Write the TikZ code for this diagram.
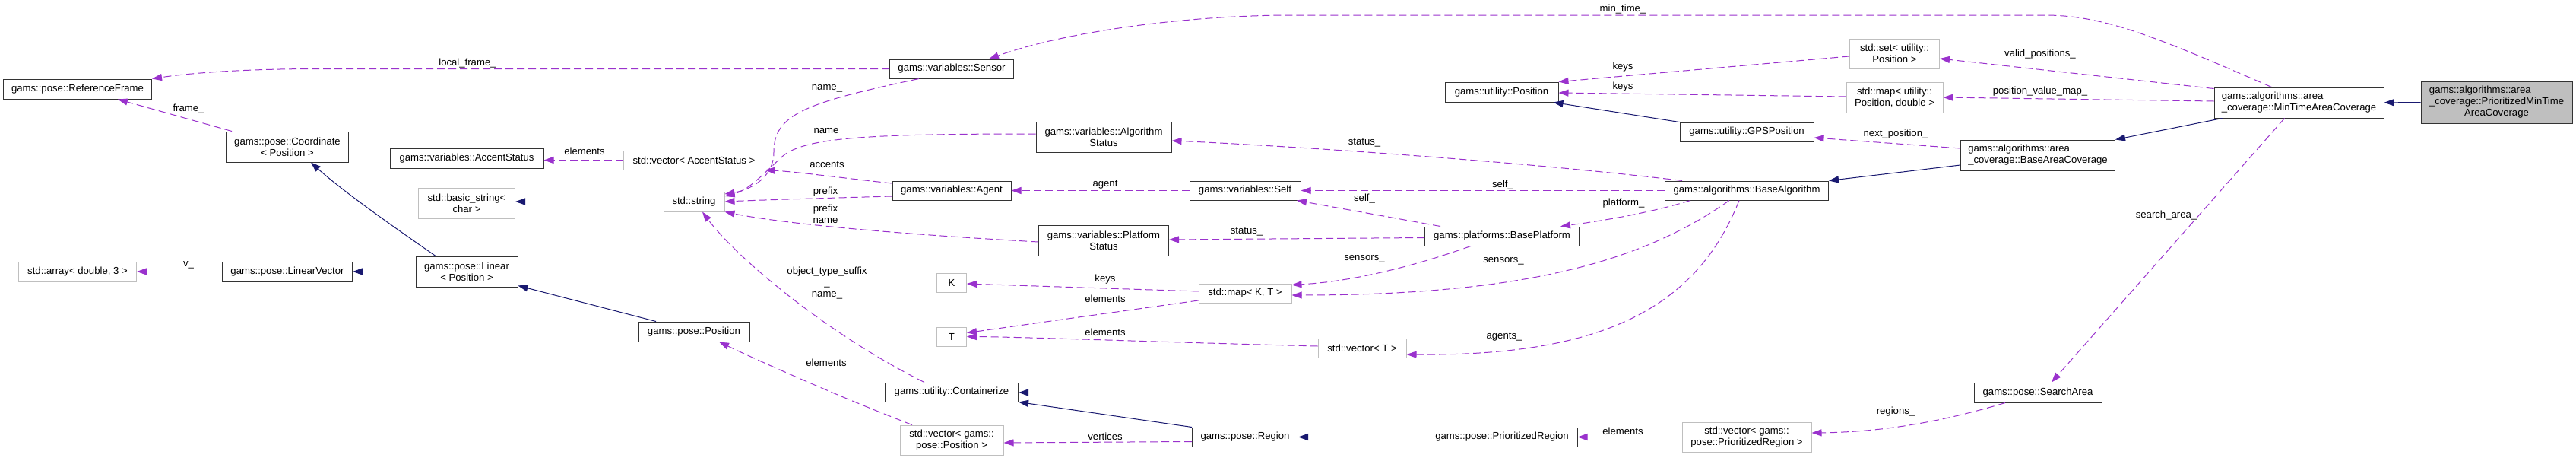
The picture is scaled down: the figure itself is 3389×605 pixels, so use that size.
\documentclass[tikz,border=0pt]{standalone}
\usepackage{fontspec}
\setmainfont{Liberation Sans}
\usepackage{tikz}
\usetikzlibrary{arrows.meta}
\usepackage{xcolor}
\definecolor{usecol}{HTML}{9A32CD}
\definecolor{inhcol}{HTML}{191970}
\definecolor{extgray}{HTML}{BFBFBF}

\begin{document}
\begin{tikzpicture}[
    x=1pt, y=-1pt,
    font=\fontsize{13.15}{15}\selectfont,
    cls/.style={draw=black!80, line width=1pt, fill=white, inner sep=0pt, align=center, minimum height=25pt},
    extcls/.style={cls, draw=extgray},
    hlcls/.style={cls, fill=extgray},
    lbl/.style={inner sep=0pt, align=center},
    usage/.style={-{Triangle[length=13pt,width=9pt]}, color=usecol, line width=1pt, dash pattern=on 10pt off 5pt},
    inherit/.style={-{Triangle[length=13pt,width=9pt]}, color=inhcol, line width=1pt}
]
\useasboundingbox[fill=white] (0,0) rectangle (3389,605);

% pose classes (left)
\node[cls, minimum width=195pt, minimum height=26pt] (refframe) at (102,117) {gams::pose::ReferenceFrame};
\node[cls, minimum width=161pt, minimum height=40pt] (coordinate) at (378,193) {gams::pose::Coordinate\\< Position >};
\node[extcls, minimum width=155pt, minimum height=26pt] (stdarray) at (102,357) {std::array< double, 3 >};
\node[cls, minimum width=171pt, minimum height=26pt] (linvec) at (378,357) {gams::pose::LinearVector};
\node[cls, minimum width=134pt, minimum height=40pt] (linear) at (614,357) {gams::pose::Linear\\< Position >};
\node[cls, minimum width=202pt, minimum height=26pt] (accentstatus) at (614,208) {gams::variables::AccentStatus};
\node[extcls, minimum width=127pt, minimum height=40pt] (basicstring) at (614,267) {std::basic\_string<\\char >};
\node[extcls, minimum width=186pt] (vecaccent) at (913,210.5) {std::vector< AccentStatus >};
\node[extcls, minimum width=80pt, minimum height=26pt] (stdstring) at (913,265) {std::string};
\node[cls, minimum width=146pt, minimum height=26pt] (poseposition) at (913,436) {gams::pose::Position};

% variables
\node[cls, minimum width=163pt] (sensor) at (1252,90.5) {gams::variables::Sensor};
\node[cls, minimum width=156pt] (agent) at (1252,250.5) {gams::variables::Agent};
\node[extcls, minimum width=39pt] (knode) at (1252,371.5) {K};
\node[extcls, minimum width=39pt] (tnode) at (1252,442.5) {T};
\node[cls, minimum width=175pt] (containerize) at (1252,515.5) {gams::utility::Containerize};
\node[extcls, minimum width=136pt, minimum height=39pt] (vecposition) at (1252,578.5) {std::vector< gams::\\pose::Position >};
\node[cls, minimum width=178pt, minimum height=40pt] (algstatus) at (1452,180) {gams::variables::Algorithm\\Status};
\node[cls, minimum width=171pt, minimum height=40pt] (platstatus) at (1452,316) {gams::variables::Platform\\Status};
\node[cls, minimum width=146pt] (self) at (1638,250.5) {gams::variables::Self};
\node[extcls, minimum width=122pt] (mapkt) at (1638,385.5) {std::map< K, T >};
\node[cls, minimum width=139pt] (region) at (1638,574.5) {gams::pose::Region};
\node[extcls, minimum width=116pt] (vect) at (1792,457.5) {std::vector< T >};

% platforms and algorithms
\node[cls, minimum width=149pt, minimum height=26pt] (utilpos) at (1975.5,121) {gams::utility::Position};
\node[cls, minimum width=203pt] (baseplatform) at (1976,310.5) {gams::platforms::BasePlatform};
\node[cls, minimum width=198pt] (prioregion) at (1976,574.5) {gams::pose::PrioritizedRegion};
\node[cls, minimum width=176pt] (gpspos) at (2298,173.5) {gams::utility::GPSPosition};
\node[cls, minimum width=215pt] (basealg) at (2298,250.5) {gams::algorithms::BaseAlgorithm};
\node[extcls, minimum width=170pt, minimum height=39pt] (vecprioreg) at (2298,574.5) {std::vector< gams::\\pose::PrioritizedRegion >};
\node[extcls, minimum width=118pt, minimum height=39pt] (setpos) at (2492.5,70.5) {std::set< utility::\\Position >};
\node[extcls, minimum width=127pt, minimum height=40pt] (mappos) at (2492.5,128) {std::map< utility::\\Position, double >};
\node[cls, minimum width=203pt, minimum height=40pt, align=left] (areacov) at (2681,204) {gams::algorithms::area\\\_coverage::BaseAreaCoverage};
\node[cls, minimum width=168pt, minimum height=26pt] (searcharea) at (2681,516) {gams::pose::SearchArea};
\node[cls, minimum width=223pt, minimum height=40pt, align=left] (mintime) at (3024.5,135) {gams::algorithms::area\\\_coverage::MinTimeAreaCoverage};

% the documented class
\node[hlcls, minimum width=199pt, minimum height=55pt] (priomintime) at (3284.5,134.5)
{\begin{tabular}{@{}l@{}}gams::algorithms::area\\\_coverage::PrioritizedMinTime\\\multicolumn{1}{@{}c@{}}{AreaCoverage}\end{tabular}};

% Inheritance
\draw[inherit] (priomintime) -- (mintime);
\draw[inherit] ([xshift=11pt]mintime.south west) -- (areacov.north east);
\draw[inherit] ([yshift=-13pt]areacov.west) -- (basealg.north east);
\draw[inherit] (gpspos.north west) -- ([xshift=68pt]utilpos.south);
\draw[inherit] (stdstring.west) -- (stdstring.west -| basicstring.east);
\draw[inherit] ([xshift=-41pt]linear.north) .. controls (535,310) and (455,255) .. ([xshift=31pt]coordinate.south);
\draw[inherit] (linear.west) -- (linvec.east);
\draw[inherit] ([xshift=-50pt]poseposition.north) -- ([yshift=2pt]linear.south east);
\draw[inherit] (searcharea.west) -- (searcharea.west -| containerize.east);
\draw[inherit] (region.north west) -- (containerize.south east);
\draw[inherit] (prioregion.west) -- (region.east);

% Usage (members)
\draw[usage] ([xshift=-36pt]mintime.north) .. controls (2840,50) and (2770,20) .. (2690,20) -- (1700,20)
    .. controls (1560,20) and (1400,42) .. ([xshift=49pt]sensor.north);
\draw[usage] (sensor.west) -- (420,90.5) .. controls (320,90.5) and (250,96) .. (refframe.north east);
\draw[usage] ([xshift=-73pt]coordinate.north) -- ([xshift=53pt]refframe.south);
\draw[usage] (linvec) -- (stdarray);
\draw[usage] (vecaccent.west) -- (vecaccent.west -| accentstatus.east);
\draw[usage] ([xshift=-43pt]sensor.south) .. controls (1060,135) and (1018,150) .. (1018,200)
    .. controls (1018,235) and (985,250) .. ([yshift=10pt]stdstring.east);
\draw[usage] ([yshift=4pt]algstatus.west) .. controls (1150,176) and (1060,180) .. (1030,205)
    .. controls (1005,228) and (985,250) .. ([yshift=7pt]stdstring.east);
\draw[usage] ([yshift=9.5pt]agent.west) .. controls (1100,233) and (1050,226) .. (vecaccent.south east);
\draw[usage] ([yshift=-7.5pt]agent.west) .. controls (1100,260) and (1000,263) .. (stdstring.east);
\draw[usage] ([yshift=-2pt]platstatus.west) .. controls (1150,306) and (1020,292) .. (stdstring.south east);
\draw[usage] ([xshift=-36pt]containerize.north) .. controls (1090,440) and (970,340) .. ([xshift=11pt]stdstring.south);
\draw[usage] ([xshift=-52pt]vecposition.north) .. controls (1100,520) and (1000,475) .. ([xshift=33pt]poseposition.south);
\draw[usage] (self.west) -- (agent.east);
\draw[usage] ([xshift=-85pt]basealg.north) .. controls (2000,212) and (1700,192) .. ([yshift=-5pt]algstatus.east);
\draw[usage] (basealg.west) -- (self.east);
\draw[usage] ([xshift=-81pt]baseplatform.north) -- ([xshift=68pt]self.south);
\draw[usage] ([xshift=-74pt]basealg.south) .. controls (2170,280) and (2110,290) .. ([xshift=77pt]baseplatform.north);
\draw[usage] ([yshift=-2pt]baseplatform.west) -- ([yshift=1pt]platstatus.east);
\draw[usage] ([xshift=-41pt]baseplatform.south) .. controls (1860,350) and (1780,370) .. ([yshift=-2pt]mapkt.north east);
\draw[usage] ([xshift=-23pt]basealg.south) .. controls (2160,345) and (2000,388) .. ([yshift=-2.5pt]mapkt.east);
\draw[usage] ([xshift=-10pt]basealg.south) .. controls (2230,410) and (2100,468) .. ([yshift=-8.5pt]vect.east);
\draw[usage] ([yshift=2.5pt]mapkt.west) -- ([yshift=-1.5pt]knode.east);
\draw[usage] ([yshift=-9.5pt]mapkt.west) -- ([yshift=5pt]tnode.east);
\draw[usage] ([yshift=2.5pt]vect.west) .. controls (1500,449) and (1350,443) .. (tnode.east);
\draw[usage] ([yshift=-6pt]region.west) -- ([yshift=-3.5pt]vecposition.east);
\draw[usage] (vecprioreg.west) -- (prioregion.east);
\draw[usage] ([xshift=-43pt]searcharea.south) .. controls (2560,553) and (2480,568) .. ([yshift=5.5pt]vecprioreg.east);
\draw[usage] ([xshift=-19pt]mintime.south) -- ([xshift=18pt]searcharea.north);
\draw[usage] ([yshift=-2pt]mintime.north west) -- ([yshift=-6.5pt]setpos.east);
\draw[usage] ([yshift=2pt]mintime.west) -- (mappos.east);
\draw[usage] ([yshift=-3.5pt]setpos.west) -- (utilpos.north east);
\draw[usage] ([yshift=1pt]mappos.west) -- ([yshift=-1pt]utilpos.east);
\draw[usage] ([yshift=9pt]areacov.west) -- ([yshift=-7.5pt]gpspos.east);

% Edge labels
\node[lbl] (lmintime) at (2135,12) {min\_time\_};
\node[lbl] (llocal) at (615,83) {local\_frame\_};
\node[lbl] (lframe) at (248,143) {frame\_};
\node[lbl] (lv) at (248,348) {v\_};
\node[lbl] (lelemaccent) at (769,199) {elements};
\node[lbl] (lnamesensor) at (1088,116) {name\_};
\node[lbl] (lnamealg) at (1087,172) {name};
\node[lbl] (laccents) at (1088,216) {accents};
\node[lbl] (lprefix) at (1086,252) {prefix};
\node[lbl] (lprefixname) at (1086,281) {prefix\\name};
\node[lbl] (lsuffix) at (1088,372) {object\_type\_suffix\\\_\\name\_};
\node[lbl] (lelempos) at (1087,477) {elements};
\node[lbl] (lagent) at (1454,243) {agent};
\node[lbl] (lstatusplat) at (1640,305) {status\_};
\node[lbl] (lkeys) at (1454,367) {keys};
\node[lbl] (lelemmap) at (1454,393) {elements};
\node[lbl] (lelemvec) at (1454,437) {elements};
\node[lbl] (lvertices) at (1454,574) {vertices};
\node[lbl] (lkeysset) at (2135,88) {keys};
\node[lbl] (lkeysmap) at (2135,114) {keys};
\node[lbl] (lstatusalg) at (1795,188) {status\_};
\node[lbl] (lselfalg) at (1977,243) {self\_};
\node[lbl] (lselfplat) at (1795,261) {self\_};
\node[lbl] (lplatform) at (2136,267) {platform\_};
\node[lbl] (lsensorsplat) at (1795,340) {sensors\_};
\node[lbl] (lsensorsalg) at (1978,343) {sensors\_};
\node[lbl] (lagents) at (1979,443) {agents\_};
\node[lbl] (lelemprio) at (2135,567) {elements};
\node[lbl] (lvalid) at (2684,71) {valid\_positions\_};
\node[lbl] (lposmap) at (2684,120) {position\_value\_map\_};
\node[lbl] (lnext) at (2494,176) {next\_position\_};
\node[lbl] (lregions) at (2494,541) {regions\_};
\node[lbl] (lsearch) at (2850,283) {search\_area\_};

\end{tikzpicture}
\end{document}
